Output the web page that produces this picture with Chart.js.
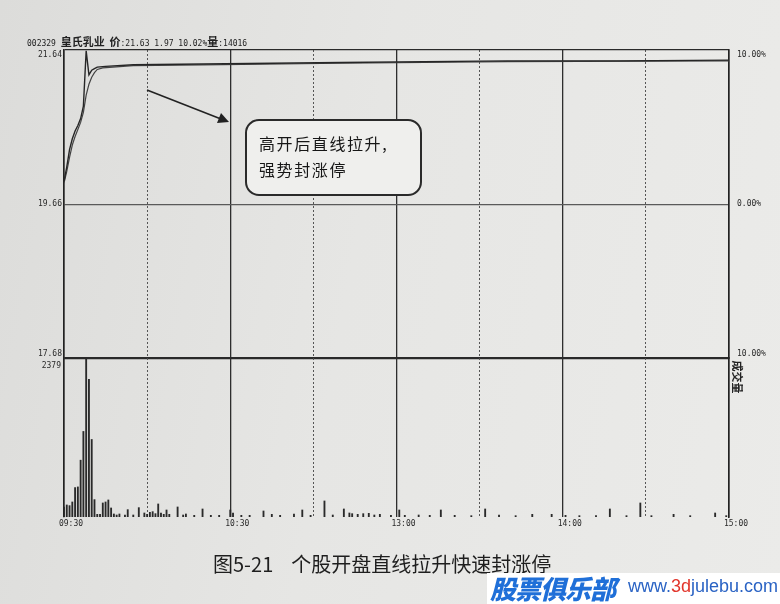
<!DOCTYPE html>
<html>
<head>
<meta charset="utf-8">
<script src="https://cdn.jsdelivr.net/npm/chart.js@4"></script>
<style>
  body { margin: 0; width: 780px; height: 604px; overflow: hidden; position: relative;
         background: linear-gradient(100deg, #dcdcda 0%, #e6e6e4 45%, #ebebe9 100%);
         font-family: "Noto Sans CJK SC", sans-serif; }
  canvas { position: absolute; left: 0; }
  #priceChart { top: 6px; }
  #volChart { top: 350px; }
  #header { position: absolute; left: 27px; top: 33px; font-family: "DejaVu Sans Mono", monospace;
            font-size: 8px; color: #222; white-space: pre; }
  #header b { font-family: "Noto Sans CJK SC"; font-size: 11px; }
  #callout { position: absolute; left: 245px; top: 119px; width: 173px; height: 73px;
             border: 2px solid #2a2a2a; border-radius: 14px; background: #efefed; }
  #callout div { position: absolute; left: 12px; font-size: 16px; letter-spacing: 1.6px; color: #161616; }
  #arrow { position: absolute; left: 0; top: 0; }
  #caption { position: absolute; left: 213px; top: 549px; font-size: 20px; color: #1e1e1e; white-space: pre; }
  #wm { position: absolute; left: 487px; top: 573px; width: 293px; height: 31px; background: #fff; }
  #wm .cn { position: absolute; left: 3px; top: -4px; font-size: 26px; font-weight: 900; font-style: italic;
            color: #1f6fd8; letter-spacing: -1px; }
  #wm .url { position: absolute; left: 141px; top: 3px; font-family: "Liberation Sans", sans-serif;
             font-size: 18px; color: #2a63c4; }
  #wm .url span { color: #e2352b; }
</style>
</head>
<body>
<canvas id="priceChart" width="780" height="370"></canvas>
<canvas id="volChart" width="780" height="190"></canvas>
<div id="header">002329 <b>皇氏乳业</b> <b>价</b>:21.63 1.97 10.02%<b>量</b>:14016</div>
<svg id="arrow" width="780" height="604">
  <line x1="147" y1="90" x2="221" y2="119" stroke="#222" stroke-width="1.6"/>
  <polygon points="229,122 217,123 221,113" fill="#222"/>
</svg>
<div id="callout">
  <div style="top:10px">高开后直线拉升,</div>
  <div style="top:36px">强势封涨停</div>
</div>
<div id="caption">图5-21    个股开盘直线拉升快速封涨停</div>
<div id="wm"><div class="cn">股票俱乐部</div><div class="url">www.<span>3d</span>julebu.com</div></div>
<script>
// minutes from 09:30 (0) to 15:00 (240), lunch break removed
const priceMinutes = [0, 1, 2, 3, 4, 5, 6, 7, 8, 9, 10, 11, 12, 15, 25, 50, 100, 160, 200, 240];
const priceValues = [19.95, 20.14, 20.36, 20.50, 20.60, 20.67, 20.76, 20.92, 21.63, 21.32, 21.38, 21.40, 21.42, 21.43, 21.45, 21.46, 21.48, 21.50, 21.50, 21.51];
const avgMinutes = [0, 1, 2, 3, 4, 5, 6, 7, 8, 9, 10, 11, 12, 14, 25, 50, 100, 160, 240];
const avgValues = [19.93, 20.08, 20.26, 20.42, 20.53, 20.62, 20.71, 20.84, 21.06, 21.20, 21.29, 21.35, 21.39, 21.41, 21.44, 21.45, 21.47, 21.49, 21.50];

const volMinutes = [0, 1, 2, 3, 4, 5, 6, 7, 8, 9, 10, 11, 12, 13, 14, 15, 16, 17, 18, 19, 20, 22, 23, 25, 27, 29, 30, 31, 32, 33, 34, 35, 36, 37, 38, 41, 43, 44, 47, 50, 53, 56, 60, 61, 64, 67, 72, 75, 78, 83, 86, 89, 94, 97, 101, 103, 104, 106, 108, 110, 112, 114, 118, 121, 123, 128, 132, 136, 141, 147, 152, 157, 163, 169, 176, 181, 186, 192, 197, 203, 208, 212, 220, 226, 235, 239];
const volValues = [150, 180, 170, 225, 440, 450, 850, 1280, 2379, 2060, 1160, 260, 40, 40, 210, 225, 255, 135, 45, 30, 45, 30, 110, 30, 140, 60, 40, 70, 80, 50, 195, 60, 40, 105, 40, 150, 30, 45, 25, 120, 25, 25, 105, 60, 25, 25, 90, 40, 25, 45, 105, 25, 240, 30, 120, 60, 50, 40, 50, 55, 30, 40, 25, 105, 25, 30, 25, 105, 25, 20, 120, 30, 20, 40, 40, 25, 20, 20, 120, 20, 210, 20, 40, 20, 60, 20];

const priceTicks = [17.68, 19.66, 21.64];
const priceTickLabels = ['17.68', '19.66', '21.64'];
const pctTickLabels = ['10.00%', '0.00%', '10.00%'];
const volTicks = [2379];
const volTickLabels = ['2379'];
const gridMinutes = [0, 30, 60, 90, 120, 150, 180, 210, 240];
const timeTickMinutes = [0, 60, 120, 180, 240];
const timeTickLabels = ['09:30', '10:30', '13:00', '14:00', '15:00'];

const monoFont = { family: 'DejaVu Sans Mono', size: 8 };
const isHour = ctx => ctx.tick && ctx.tick.value % 60 === 0;

// top label sits just under the frame, bottom label just above it
function edgeLabel(text, i, n) {
    if (i === n - 1) return ['', text];
    if (i === 0) return [text, ''];
    return text;
}

const xGrid = {
    color: ctx => isHour(ctx) ? '#2e2e2e' : '#555',
    lineWidth: ctx => isHour(ctx) ? 1.3 : 1,
    drawTicks: false
};
const xBorder = { display: false, dash: ctx => (ctx.tick && !isHour(ctx)) ? [2, 2] : [] };

new Chart(document.getElementById('priceChart'), {
    type: 'line',
    data: {
        datasets: [
            { data: priceMinutes.map((m, i) => ({ x: m, y: priceValues[i] })), borderColor: '#262626', borderWidth: 1.4, pointRadius: 0 },
            { data: avgMinutes.map((m, i) => ({ x: m, y: avgValues[i] })), borderColor: '#444', borderWidth: 1.2, pointRadius: 0 }
        ]
    },
    options: {
        responsive: false, animation: false,
        layout: { padding: { top: 44, bottom: 6, left: 0, right: 0 } },
        plugins: { legend: { display: false }, tooltip: { enabled: false } },
        scales: {
            x: {
                type: 'linear', min: 0, max: 240,
                afterBuildTicks: s => { s.ticks = gridMinutes.map(v => ({ value: v })); },
                ticks: { display: false },
                grid: xGrid, border: xBorder,
                afterFit: s => { s.height = 0; }
            },
            y: {
                min: 17.68, max: 21.64, position: 'left',
                afterBuildTicks: s => { s.ticks = priceTicks.map(v => ({ value: v })); },
                ticks: { font: monoFont, color: '#2a2a2a', padding: 2,
                         callback: (v, i) => edgeLabel(priceTickLabels[i], i, priceTicks.length) },
                grid: { color: ctx => ctx.tick && ctx.tick.value === 19.66 ? '#5a5a5a' : '#2a2a2a',
                        lineWidth: 1.3, drawTicks: false },
                border: { color: '#222', width: 1.6 },
                afterFit: s => { s.width = 64; }
            },
            yR: {
                min: 17.68, max: 21.64, position: 'right',
                afterBuildTicks: s => { s.ticks = priceTicks.map(v => ({ value: v })); },
                ticks: { font: monoFont, color: '#2a2a2a', padding: 8,
                         callback: (v, i) => edgeLabel(pctTickLabels[i], i, priceTicks.length) },
                grid: { display: false, drawTicks: false },
                border: { color: '#222', width: 1.6 },
                afterFit: s => { s.width = 51; }
            }
        }
    }
});

new Chart(document.getElementById('volChart'), {
    type: 'bar',
    data: {
        datasets: [
            { data: volMinutes.map((m, i) => ({ x: m, y: volValues[i] })), backgroundColor: '#2a2a2a', barThickness: 1.2 }
        ]
    },
    options: {
        responsive: false, animation: false,
        layout: { padding: { top: 8, bottom: 11, left: 0, right: 36 } },
        plugins: { legend: { display: false }, tooltip: { enabled: false } },
        scales: {
            x: {
                type: 'linear', min: 0, max: 240, offset: false,
                afterBuildTicks: s => { s.ticks = gridMinutes.map(v => ({ value: v })); },
                ticks: { font: monoFont, color: '#2a2a2a', padding: 2, labelOffset: 7, maxRotation: 0, autoSkip: false,
                         callback: v => { const k = timeTickMinutes.indexOf(v); return k < 0 ? '' : timeTickLabels[k]; } },
                grid: Object.assign({ offset: false }, xGrid), border: xBorder,
                afterFit: s => { s.height = 12; }
            },
            y: {
                min: 0, max: 2379, position: 'left',
                afterBuildTicks: s => { s.ticks = volTicks.map(v => ({ value: v })); },
                ticks: { font: monoFont, color: '#2a2a2a', padding: 3, labelOffset: 8,
                         callback: (v, i) => volTickLabels[i] },
                grid: { color: '#2a2a2a', lineWidth: 1.3, drawTicks: false },
                border: { color: '#222', width: 1.6 },
                afterFit: s => { s.width = 64; }
            },
            yR: {
                min: 0, max: 2379, position: 'right',
                ticks: { display: false },
                grid: { display: false, drawTicks: false },
                border: { color: '#222', width: 1.6 },
                title: { display: true, text: ' 成交量', align: 'end', padding: 0,
                         font: { family: 'Noto Sans CJK SC', size: 11, weight: 'bold' }, color: '#222' },
                afterFit: s => { s.width = 15; }
            }
        }
    }
});
</script>
</body>
</html>
